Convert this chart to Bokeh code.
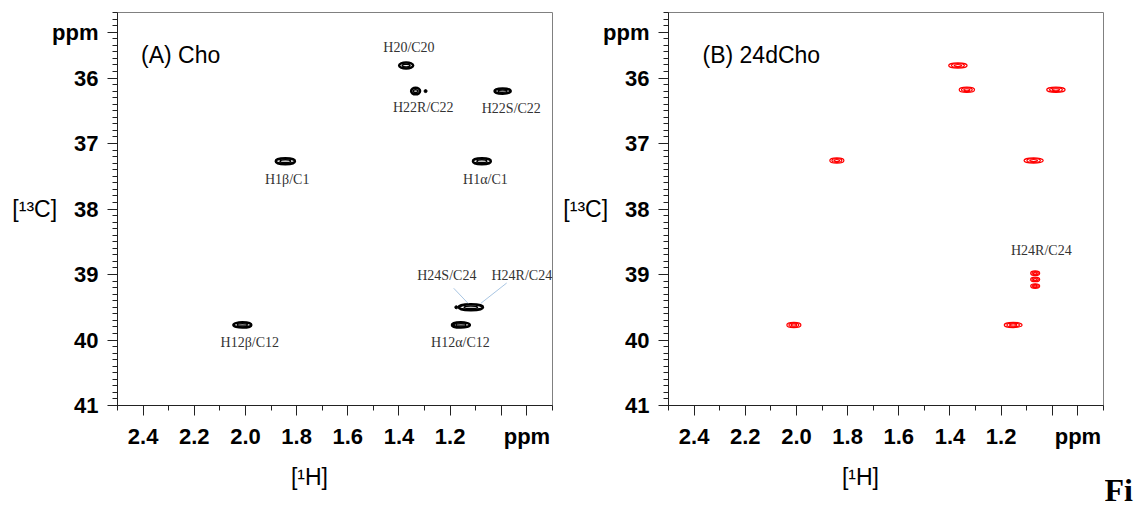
from bokeh.plotting import figure
from bokeh.models import Range1d, FixedTicker, CustomJSTickFormatter, Label, Spacer
from bokeh.layouts import row, column
from bokeh.embed import file_html
from bokeh.resources import INLINE
import numpy as np

# ---------------- data ----------------
# Panel A (Cho): cross peaks (1H ppm, 13C ppm) and peak widths (ppm)
A_x = [1.372, 1.335, 0.995, 1.844, 1.076, 2.012, 1.158, 1.119]
A_y = [35.81, 36.20, 36.20, 37.27, 37.27, 39.77, 39.77, 39.50]
A_w = [0.055, 0.035, 0.063, 0.075, 0.070, 0.070, 0.070, 0.095]
A_h = [0.09, 0.10, 0.08, 0.09, 0.09, 0.08, 0.08, 0.09]
A_dot_x = [1.296, 1.188, 1.176]
A_dot_y = [36.20, 39.77, 39.50]
A_labels = ["H20/C20", "H22R/C22", "H22S/C22", "H1β/C1", "H1α/C1",
            "H12β/C12", "H12α/C12", "H24S/C24", "H24R/C24"]
A_lab_x = [1.361, 1.305, 0.961, 1.837, 1.062, 1.983, 1.160, 1.213, 0.920]
A_lab_y = [35.535, 36.455, 36.47, 37.545, 37.545, 40.04, 40.04, 39.01, 39.01]
A_lead_x0 = [1.186, 0.979]
A_lead_y0 = [39.21, 39.13]
A_lead_x1 = [1.130, 1.080]
A_lead_y1 = [39.44, 39.44]

# Panel B (24dCho)
B_x = [1.369, 1.334, 0.986, 1.842, 1.073, 2.010, 1.153, 1.067, 1.067, 1.067]
B_y = [35.81, 36.18, 36.18, 37.26, 37.26, 39.77, 39.77, 38.98, 39.075, 39.176]
B_w = [0.072, 0.060, 0.072, 0.055, 0.075, 0.055, 0.070, 0.035, 0.035, 0.035]
B_h = [0.08, 0.08, 0.08, 0.08, 0.08, 0.08, 0.08, 0.07, 0.07, 0.07]
B_labels = ["H24R/C24"]
B_lab_x = [1.043]
B_lab_y = [38.63]

x_major = [2.4, 2.2, 2.0, 1.8, 1.6, 1.4, 1.2, 1.0, 0.9]   # 0.9 carries the "ppm" unit label
y_major = [35.3, 36, 37, 38, 39, 40, 41]                  # 35.3 carries the "ppm" unit label
panel_titles = ["(A) Cho", "(B) 24dCho"]
x_axis_title = "[¹H]"
y_axis_title = "[¹³C]"
cut_caption = "Fi"

SANS = "Liberation Sans"
SERIF = "Liberation Serif"
NBSP_PAD = "\u00a0" * 8   # shifts the centred x-axis title to the left


def make_panel(title, title_x, left_border, right_border):
    p = figure(frame_width=435, frame_height=393,
               x_range=Range1d(2.5, 0.8), y_range=Range1d(41.0, 35.0),
               output_backend="svg", toolbar_location=None,
               min_border_left=left_border, min_border_right=right_border,
               min_border_top=12, min_border_bottom=98)
    p.grid.visible = False
    p.outline_line_color = "#808080"
    p.outline_line_width = 1
    p.background_fill_color = "white"
    p.border_fill_color = "white"

    p.xaxis.ticker = FixedTicker(ticks=x_major,
                                 minor_ticks=list(np.round(np.arange(0.8, 2.51, 0.1), 2)))
    p.xaxis.formatter = CustomJSTickFormatter(
        code="if (tick < 0.95) return 'ppm'; if (tick < 1.05) return ''; return tick.toFixed(1);")
    p.yaxis.ticker = FixedTicker(ticks=y_major,
                                 minor_ticks=list(np.round(np.arange(35.0, 41.01, 0.1), 2)))
    p.yaxis.formatter = CustomJSTickFormatter(
        code="if (tick < 35.5) return 'ppm'; return tick.toFixed(0);")
    for ax in (p.xaxis, p.yaxis):
        ax.axis_line_color = "#222222"
        ax.major_tick_line_color = "#222222"
        ax.minor_tick_line_color = "#222222"
        ax.major_tick_out = 10
        ax.major_tick_in = 0
        ax.minor_tick_out = 5
        ax.minor_tick_in = 0
        ax.major_label_text_font = SANS
        ax.major_label_text_font_style = "bold"
        ax.major_label_text_font_size = "22px"
        ax.major_label_text_color = "black"
        ax.axis_label_text_font = SANS
        ax.axis_label_text_font_style = "normal"
        ax.axis_label_text_font_size = "23px"
        ax.axis_label_text_color = "black"
    p.xaxis.major_label_standoff = 8
    p.yaxis.major_label_standoff = 9

    p.xaxis.axis_label = x_axis_title + NBSP_PAD
    p.xaxis.axis_label_standoff = 12
    p.yaxis.axis_label = y_axis_title
    p.yaxis.axis_label_orientation = "horizontal"
    p.yaxis.axis_label_standoff = -8

    p.add_layout(Label(x=title_x, y=35.65, text=title,
                       text_align="left", text_baseline="middle",
                       text_font=SANS, text_font_size="23px", text_color="black"))
    return p


pA = make_panel(panel_titles[0], 2.408, 117, 8)
pB = make_panel(panel_titles[1], 2.367, 104, 1)

# Panel A peaks: black contour-like blobs
pA.ellipse(x=A_x, y=A_y, width=A_w, height=A_h, fill_color=None,
           line_color="black", line_width=2.5)
pA.ellipse(x=A_x, y=A_y, width=[w * 0.55 for w in A_w], height=[h * 0.45 for h in A_h],
           fill_color=None, line_color="black", line_width=1.5)
pA.scatter(x=A_dot_x, y=A_dot_y, size=3, color="black")
pA.segment(x0=A_lead_x0, y0=A_lead_y0, x1=A_lead_x1, y1=A_lead_y1,
           line_color="#a9c6e3", line_width=1)
pA.text(x=A_lab_x, y=A_lab_y, text=A_labels, text_align="center",
        text_baseline="middle", text_font={"value": SERIF},
        text_font_size="14px", text_color="#333333")

# Panel B peaks: red contour rings
for f in (1.0, 0.7, 0.4):
    pB.ellipse(x=B_x, y=B_y, width=[w * f for w in B_w], height=[h * f for h in B_h],
               fill_color=None, line_color="red", line_width=1.2)
pB.text(x=B_lab_x, y=B_lab_y, text=B_labels, text_align="center",
        text_baseline="middle", text_font={"value": SERIF},
        text_font_size="14px", text_color="#333333")

# cut-off caption at the page's bottom-right corner (small strip, pixel-like ranges)
pC = figure(width=34, height=51, x_range=Range1d(0, 34), y_range=Range1d(51, 0),
            x_axis_type=None, y_axis_type=None, output_backend="svg",
            toolbar_location=None, min_border=0, title=None)
pC.grid.visible = False
pC.outline_line_color = None
pC.text(x=[0], y=[34], text=[cut_caption], text_align="left",
        text_baseline="alphabetic", text_font={"value": SERIF},
        text_font_style="bold", text_font_size="32px", text_color="black")

layout = row(pA, pB, column(Spacer(width=34, height=455), pC))
open("out.html", "w").write(file_html(layout, INLINE))
